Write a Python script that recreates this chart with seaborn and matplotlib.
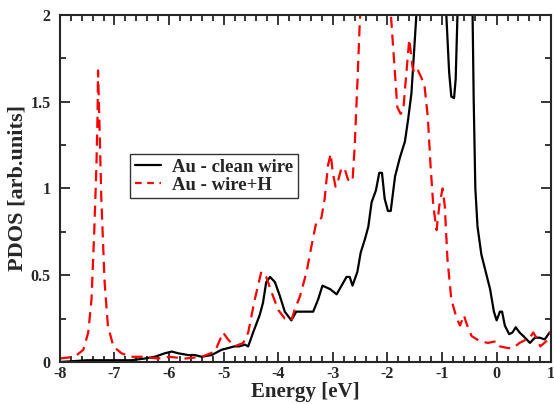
import matplotlib
matplotlib.use("Agg")
from matplotlib import pyplot as plt
from matplotlib.ticker import MultipleLocator, FuncFormatter
import seaborn as sns
import pandas as pd

# Au - clean wire (black solid)
clean_e = [-8.0, -7.5, -7.0, -6.7, -6.44, -6.26, -6.08, -5.95, -5.83, -5.65, -5.53, -5.40,
           -5.22, -5.04, -4.92, -4.80, -4.71, -4.61, -4.55, -4.46, -4.34, -4.28, -4.22,
           -4.15, -4.06, -3.97, -3.88, -3.76, -3.67, -3.58, -3.51, -3.36, -3.27, -3.19,
           -3.05, -2.93, -2.84, -2.75, -2.69, -2.64, -2.55, -2.49, -2.41, -2.35, -2.29,
           -2.21, -2.15, -2.10, -2.05, -1.99, -1.94, -1.86, -1.77, -1.68, -1.62, -1.56,
           -1.51, -1.47, -1.40, -1.30, -1.20, -1.05, -0.95, -0.92, -0.87, -0.83, -0.78,
           -0.75, -0.72, -0.68, -0.60, -0.50, -0.44, -0.42, -0.39, -0.35, -0.28, -0.20,
           -0.12, -0.05, 0.0, 0.06, 0.10, 0.15, 0.23, 0.29, 0.35, 0.42, 0.52, 0.61, 0.70,
           0.79, 0.88, 0.97, 1.0]
clean_pdos = [0.0, 0.01, 0.01, 0.01, 0.02, 0.03, 0.05, 0.06, 0.05, 0.04, 0.04, 0.03,
              0.04, 0.07, 0.08, 0.09, 0.09, 0.10, 0.09, 0.17, 0.27, 0.34, 0.46,
              0.49, 0.46, 0.38, 0.29, 0.24, 0.29, 0.29, 0.29, 0.29, 0.36, 0.44,
              0.42, 0.39, 0.44, 0.49, 0.49, 0.44, 0.52, 0.63, 0.71, 0.78, 0.92,
              0.99, 1.09, 1.09, 0.94, 0.87, 0.87, 1.07, 1.18, 1.27, 1.40, 1.55,
              1.80, 2.0, 2.6, 3.0, 3.2, 2.8, 2.3, 1.99, 1.67, 1.53, 1.52,
              1.63, 1.97, 2.5, 3.2, 2.6, 1.99, 1.51, 1.0, 0.78, 0.62, 0.52,
              0.42, 0.29, 0.24, 0.29, 0.29, 0.21, 0.16, 0.17, 0.20, 0.17, 0.14, 0.11, 0.14,
              0.14, 0.13, 0.17, 0.17]

# Au - wire+H (red dashed)
h_e = [-8.0, -7.73, -7.57, -7.48, -7.42, -7.37, -7.33, -7.31, -7.30, -7.27, -7.24,
       -7.18, -7.12, -7.02, -6.87, -6.69, -6.5, -6.2, -6.0, -5.7, -5.4, -5.16, -5.01,
       -4.92, -4.80, -4.64, -4.55, -4.43, -4.31, -4.22, -4.12, -4.0, -3.88, -3.76,
       -3.70, -3.60, -3.48, -3.39, -3.30, -3.21, -3.15, -3.09, -3.04, -3.0, -2.95,
       -2.90, -2.84, -2.78, -2.72, -2.64, -2.60, -2.55, -2.51, -2.45, -2.3, -2.15,
       -2.0, -1.93, -1.87, -1.82, -1.76, -1.71, -1.66, -1.60, -1.54, -1.50, -1.44,
       -1.38, -1.32, -1.26, -1.21, -1.16, -1.10, -1.05, -0.99, -0.95, -0.90, -0.83,
       -0.73, -0.67, -0.60, -0.55, -0.46, -0.31, -0.16, 0.0, 0.06, 0.21, 0.30, 0.42,
       0.61, 0.67, 0.73, 0.80, 0.91, 1.0]
h_pdos = [0.02, 0.03, 0.07, 0.17, 0.36, 0.75, 1.13, 1.41, 1.68, 1.32, 0.94,
          0.46, 0.21, 0.09, 0.05, 0.03, 0.03, 0.02, 0.03, 0.02, 0.03, 0.06, 0.17,
          0.13, 0.09, 0.11, 0.17, 0.36, 0.52, 0.49, 0.40, 0.30, 0.25, 0.24,
          0.30, 0.38, 0.52, 0.67, 0.81, 0.83, 0.94, 1.13, 1.20, 1.09, 1.01,
          1.05, 1.12, 1.11, 1.05, 1.04, 1.24, 1.61, 1.93, 2.3, 2.8, 2.9,
          2.4, 1.97, 1.70, 1.47, 1.43, 1.45, 1.64, 1.86, 1.70, 1.66, 1.68,
          1.64, 1.59, 1.41, 1.13, 0.90, 0.76, 0.90, 1.00, 0.90, 0.59, 0.36,
          0.25, 0.21, 0.27, 0.22, 0.15, 0.12, 0.11, 0.12, 0.09, 0.08, 0.08, 0.11,
          0.14, 0.17, 0.14, 0.09, 0.12, 0.18]

clean = pd.DataFrame({"energy": clean_e, "pdos": clean_pdos})
wireh = pd.DataFrame({"energy": h_e, "pdos": h_pdos})

sns.set_style("ticks")
plt.rcParams["font.family"] = ["Liberation Serif", "DejaVu Serif"]
plt.rcParams["font.weight"] = "bold"
plt.rcParams["axes.unicode_minus"] = False

fig = plt.figure(figsize=(5.54, 4.04), dpi=100)
ax = fig.add_axes([0.108, 0.104, 0.887, 0.859])

sns.lineplot(data=clean, x="energy", y="pdos", color="black", lw=1.6,
             label="Au - clean wire", ax=ax)
sns.lineplot(data=wireh, x="energy", y="pdos", color="red", lw=1.6,
             label="Au - wire+H", ax=ax)
ax.lines[1].set_dashes([5, 3])

ax.set_xlim(-8, 1)
ax.set_ylim(0, 2)
ax.xaxis.set_major_locator(MultipleLocator(1))
ax.xaxis.set_minor_locator(MultipleLocator(0.2))
ax.yaxis.set_major_locator(MultipleLocator(0.5))
ax.yaxis.set_minor_locator(MultipleLocator(0.25))
ax.yaxis.set_major_formatter(FuncFormatter(lambda v, p: f"{v:g}"))
ax.tick_params(which="both", direction="in", top=True, right=True, width=1.3,
               labelsize=11.5)
ax.tick_params(axis="x", pad=3)
ax.tick_params(axis="y", pad=6.5)
ax.tick_params(which="major", length=7)
ax.tick_params(which="minor", length=4)
for s in ax.spines.values():
    s.set_linewidth(1.5)

ax.set_xlabel("Energy [eV]", fontsize=15, fontweight="bold", labelpad=0)
ax.set_ylabel("PDOS [arb.units]", fontsize=16, fontweight="bold", labelpad=2)

leg = ax.legend(loc="upper left", bbox_to_anchor=(0.143, 0.60), fontsize=13.5,
                frameon=True, fancybox=False, handlelength=1.4, borderpad=0.25,
                labelspacing=0.05, handletextpad=0.6, borderaxespad=0)
leg.get_frame().set_edgecolor("black")
leg.get_frame().set_linewidth(1.0)
for t in leg.get_texts():
    t.set_fontweight("bold")
ax.get_legend().legend_handles[1].set_dashes([3, 2.5])

fig.savefig("out.png", dpi=100)
